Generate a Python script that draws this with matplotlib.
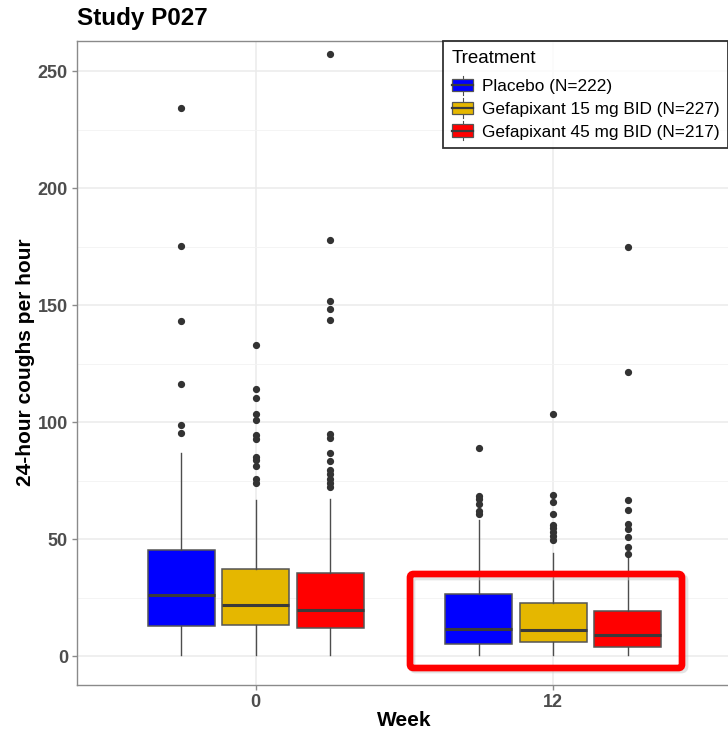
import matplotlib
matplotlib.use("Agg")
import matplotlib.pyplot as plt
from matplotlib.patches import Rectangle, FancyBboxPatch
from matplotlib.lines import Line2D
from matplotlib.legend_handler import HandlerBase

plt.rcParams["font.family"] = ["Liberation Sans", "DejaVu Sans"]

# ---- data -------------------------------------------------------------
weeks = ["0", "12"]
treatments = ["Placebo (N=222)", "Gefapixant 15 mg BID (N=227)",
              "Gefapixant 45 mg BID (N=217)"]
colors = ["#0000FF", "#E5B700", "#FF0000"]

# rows: week, columns: treatment
q1 = [[12.7, 13.2, 12.0], [5.3, 6.0, 4.0]]
median = [[26.1, 21.9, 19.8], [11.7, 11.1, 9.0]]
q3 = [[45.3, 37.2, 35.5], [26.6, 22.8, 19.4]]
whisker_low = [[0.4, 0.4, 0.4], [0.3, 0.3, 0.3]]
whisker_high = [[86.9, 66.5, 67.1], [58.1, 44.0, 42.0]]
outliers = [
    [
        [234.5, 175.2, 143.3, 116.4, 98.6, 95.4],
        [133.2, 114.1, 110.5, 103.4, 101.1, 94.4, 92.6, 85.2, 84.0, 81.3, 75.5, 73.8],
        [257.5, 177.8, 152.0, 148.6, 143.7, 94.9, 93.3, 86.8, 83.6, 79.6, 77.9, 75.9, 74.1, 72.4],
    ],
    [
        [89.0, 68.5, 67.1, 65.2, 62.1, 60.9],
        [103.7, 68.8, 65.9, 60.9, 56.0, 54.6, 52.9, 51.3, 49.4],
        [175.0, 121.6, 66.9, 62.5, 56.3, 54.4, 50.9, 46.8, 43.8],
    ],
]

# ---- figure -----------------------------------------------------------
W, H = 728, 730
fig = plt.figure(figsize=(W / 100, H / 100), dpi=100)
px = lambda x: x / W
py = lambda y: 1 - y / H
left, right, top, bottom = 77, 732, 41, 685
ax = fig.add_axes([px(left), py(bottom), px(right - left), (bottom - top) / H])

edge = "#3a3a3a"
dodge = [-0.25, 0.0, 0.25]
box_w = 0.225
for wi in range(len(weeks)):
    for ti in range(len(treatments)):
        stats = [{
            "med": median[wi][ti], "q1": q1[wi][ti], "q3": q3[wi][ti],
            "whislo": whisker_low[wi][ti], "whishi": whisker_high[wi][ti],
            "fliers": outliers[wi][ti],
        }]
        ax.bxp(stats, positions=[wi + 1 + dodge[ti]], widths=box_w,
               patch_artist=True, showcaps=False, manage_ticks=False,
               boxprops=dict(facecolor=colors[ti], edgecolor="#555555", linewidth=1.1),
               medianprops=dict(color=edge, linewidth=2.2, solid_capstyle="butt"),
               whiskerprops=dict(color="#4d4d4d", linewidth=1.0),
               flierprops=dict(marker="o", markerfacecolor="#333333",
                               markeredgecolor="#333333", markersize=4.2,
                               linestyle="none"),
               zorder=3)

ax.set_xlim(0.4, 2.6)
ax.set_ylim(-12.4, 263)
ax.set_xticks([1, 2])
ax.set_xticklabels(weeks)
ax.set_yticks([0, 50, 100, 150, 200, 250])
ax.set_yticks([25, 75, 125, 175, 225], minor=True)
ax.set_xticks([1.5], minor=True)

ax.grid(True, which="major", color="#ebebeb", linewidth=1.1, zorder=0)
ax.grid(True, which="minor", axis="y", color="#f3f3f3", linewidth=0.6, zorder=0)
ax.set_axisbelow(True)
for s in ax.spines.values():
    s.set_color("#8a8a8a")
    s.set_linewidth(1.0)

ax.tick_params(axis="both", which="major", length=3.5, width=1.0,
               color="#8a8a8a", labelcolor="#4d4d4d", labelsize=13, pad=3)
ax.tick_params(axis="both", which="minor", length=0)
for lab in ax.get_xticklabels() + ax.get_yticklabels():
    lab.set_fontweight("bold")

fig.text(px(404.5), py(720), "Week", fontsize=15, fontweight="bold",
         ha="center", va="center")
fig.text(px(25.5), py(362), "24-hour coughs per hour", fontsize=15,
         fontweight="bold", rotation=90, ha="center", va="center")
fig.text(px(77), py(18), "Study P027", fontsize=17.5, fontweight="bold",
         ha="left", va="center")


# ---- legend with boxplot glyphs ----------------------------------------
class BoxKeyHandler(HandlerBase):
    def __init__(self, color):
        super().__init__()
        self.color = color

    def create_artists(self, legend, orig_handle, xdescent, ydescent,
                       width, height, fontsize, trans):
        bw = width * 0.95
        x0 = (width - bw) / 2 - xdescent
        bh = height * 0.95
        y0 = (height - bh) / 2 - ydescent
        cx = x0 + bw / 2
        rect = Rectangle((x0, y0), bw, bh, facecolor=self.color,
                         edgecolor="#555555", linewidth=0.9, transform=trans)
        med = Line2D([x0, x0 + bw], [y0 + bh / 2] * 2, color=edge,
                     linewidth=1.6, transform=trans)
        w1 = Line2D([cx, cx], [y0 + bh, y0 + bh + 2.5], color="#4d4d4d",
                    linewidth=0.8, transform=trans)
        w2 = Line2D([cx, cx], [y0 - 2.5, y0], color="#4d4d4d",
                    linewidth=0.8, transform=trans)
        return [w1, w2, rect, med]


handles = [Rectangle((0, 0), 1, 1, facecolor=c) for c in colors]
handler_map = {h: BoxKeyHandler(c) for h, c in zip(handles, colors)}
leg = fig.legend(handles, treatments, title="Treatment", handler_map=handler_map,
                 loc="upper left", bbox_to_anchor=(px(443), py(41)),
                 fontsize=12.4, title_fontsize=13.5, frameon=True, fancybox=False,
                 edgecolor="black", handlelength=1.3, handleheight=0.78,
                 handletextpad=0.45, labelspacing=0.42, borderpad=0.5,
                 borderaxespad=0)
leg._legend_box.align = "left"
leg._legend_box.sep = 0.42 * 12.4 + 3.5
leg.get_frame().set_linewidth(1.3)

# ---- highlight frame around week 12 -------------------------------------
shadow = FancyBboxPatch((px(412), py(670)), px(273), (670 - 577) / H,
                        boxstyle="round,pad=0,rounding_size=0.005",
                        transform=fig.transFigure, fill=False,
                        edgecolor="#c8c8c8", linewidth=4.8, alpha=0.5, zorder=9)
fig.add_artist(shadow)
frame = FancyBboxPatch((px(410), py(668)), px(272), (668 - 574) / H,
                       boxstyle="round,pad=0,rounding_size=0.005",
                       transform=fig.transFigure, fill=False,
                       edgecolor="#FF0000", linewidth=4.8, zorder=10)
fig.add_artist(frame)

fig.savefig("out.png", dpi=100)
